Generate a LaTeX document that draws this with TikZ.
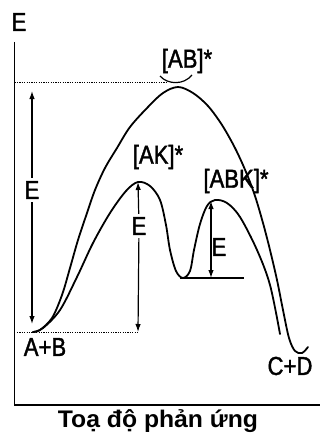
\documentclass[tikz,border=0pt]{standalone}
\usepackage{fontspec}
\setmainfont{Liberation Sans}[FakeStretch=0.85, FakeBold=1.5]
\newfontfamily\axisfont{Liberation Sans Bold}[FakeStretch=1.03]
\usetikzlibrary{arrows.meta}
\tikzset{
  lbl/.style={inner sep=1pt, font=\fontsize{26}{28}\selectfont},
  elbl/.style={inner sep=3pt, font=\fontsize{26}{28}\selectfont},
  curve/.style={line width=1.8pt, line join=round, line cap=round},
  axis/.style={line width=1.4pt},
  arr/.style={line width=1.2pt, -{Latex[length=8pt,width=5.5pt]}},
  dots/.style={line width=0.8pt, dash pattern=on 1.2pt off 1.2pt}
}
\begin{document}
\begin{tikzpicture}[x=1pt,y=-1pt]
\useasboundingbox (0,0) rectangle (320,436);
% axes
\coordinate (O) at (14.5,405);
\coordinate (ytop) at (14.5,42);
\coordinate (xend) at (320,405);
\draw[axis] (ytop) -- (O) -- (xend);
\node[lbl] (Eaxis) at (19,22) {E};
% dotted levels
\coordinate (d1a) at (14.5,82); \coordinate (d1b) at (167,82);
\coordinate (d2a) at (17,332);  \coordinate (d2b) at (138,332);
\draw[dots] (d1a) -- (d1b);
\draw[dots] (d2a) -- (d2b);
% uncatalysed curve
\draw[curve] plot[smooth, tension=0.55] coordinates {
 (33,332) (40,330) (52,318) (62,295) (70,268) (78,240) (87,213) (95,190)
 (105,168) (117,148) (130,127) (148,107) (163,93) (178,87) (193,93)
 (208,106) (222,125) (235,148) (246,172) (255,196) (263,223) (270,250)
 (277,280) (283,310) (289,338) (295,351) (302,353) (308,347)};
% catalysed curve
\draw[curve] plot[smooth, tension=0.55] coordinates {
 (33,332) (43,328) (60,310) (77,277) (93,243) (110,213) (126,191)
 (138,182) (150,186) (160,200) (166,225) (170,250) (176,271) (183,278)
 (190,271) (194,250) (200,224) (207,206) (215,200) (227,203) (240,217)
 (257,250) (270,285) (280,334)};
% cup mark at [AB]*
\coordinate (c1) at (160,76); \coordinate (c2) at (192,75);
\draw[line width=1.2pt] (c1) .. controls (168,85) and (184,85) .. (c2);
% intermediate level
\coordinate (h1) at (180,278); \coordinate (h2) at (244,278);
\draw[line width=1.4pt] (h1) -- (h2);
% labels
\node[lbl] (ABl) at (187,61) {[AB]*};
\node[lbl] (AKl) at (158,157) {[AK]*};
\node[lbl] (ABKl) at (236,181) {[ABK]*};
\node[lbl] (AB) at (45,347) {A+B};
\node[lbl] (CD) at (290,366) {C+D};
\node[inner sep=1pt, font=\axisfont\fontsize{24}{26}\selectfont] (xl) at (158,421) {Toạ độ phản ứng};
% energy arrows
\node[elbl] (E1) at (32,190) {E};
\coordinate (L1) at (32,91); \coordinate (L2) at (32,324);
\draw[arr] (E1) -- (L1);
\draw[arr] (E1) -- (L2);
\node[elbl] (E2) at (139,226) {E};
\coordinate (M1) at (138,182); \coordinate (M2) at (138,332);
\draw[arr] (E2) -- (M1);
\draw[arr] (E2) -- (M2);
\node[lbl] (E3) at (219,247) {E};
\coordinate (R1) at (211,201); \coordinate (R2) at (211,278);
\draw[line width=1.2pt, {Latex[length=8pt,width=5.5pt]}-{Latex[length=8pt,width=5.5pt]}] (R1) -- (R2);
\end{tikzpicture}
\end{document}
